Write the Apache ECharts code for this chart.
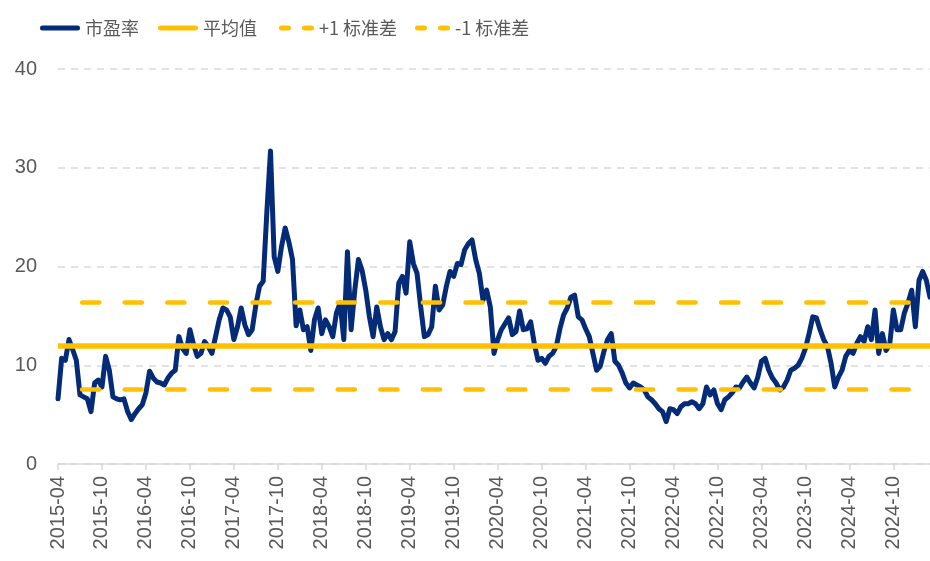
<!DOCTYPE html>
<html>
<head>
<meta charset="utf-8">
<script src="https://cdn.jsdelivr.net/npm/echarts@6/dist/echarts.min.js"></script>
<style>
html,body{margin:0;padding:0;background:#fff;}
#chart{width:930px;height:561px;}
</style>
</head>
<body>
<div id="chart"></div>
<script>
// Half-month observations starting 2015-04-01
const startYear = 2015, startMonth = 4;
const tickLabels = ['2015-04','2015-10','2016-04','2016-10','2017-04','2017-10','2018-04','2018-10','2019-04','2019-10',
  '2020-04','2020-10','2021-04','2021-10','2022-04','2022-10','2023-04','2023-10','2024-04','2024-10'];
const yTicks = [0, 10, 20, 30, 40];
const peValues = [
 6.6,10.7,10.5,12.6,11.6,10.5,7.0,6.8,6.6,5.3,
 8.2,8.5,7.8,10.9,9.5,6.8,6.6,6.5,6.6,5.3,
 4.5,5.1,5.6,6.0,7.2,9.4,8.7,8.3,8.2,8.0,
 8.7,9.2,9.5,12.9,11.7,11.2,13.6,12.1,10.9,11.2,
 12.4,11.9,11.2,12.9,14.6,15.8,15.6,14.9,12.6,13.9,
 15.8,14.1,13.1,13.6,16.1,18.0,18.5,25.5,31.7,21.0,
 19.5,22.0,23.9,22.5,20.7,14.0,15.6,13.6,13.9,11.5,
 14.6,15.8,13.2,14.6,13.9,12.9,15.3,16.3,12.6,21.5,
 13.6,17.6,20.7,19.6,17.6,14.9,12.9,15.9,13.9,12.6,
 13.2,12.6,13.4,18.3,19.0,17.3,22.5,20.3,19.3,15.9,
 12.9,13.1,13.9,18.0,15.6,16.1,18.0,19.5,19.0,20.3,
 20.2,21.7,22.3,22.7,20.7,19.3,16.6,17.6,15.9,11.2,
 12.6,13.6,14.2,14.8,13.1,13.4,15.5,13.6,13.7,14.4,
 12.2,10.5,10.7,10.2,10.9,11.2,11.9,13.7,15.1,15.8,
 16.9,17.1,14.9,14.6,13.7,12.9,11.2,9.5,9.9,11.4,
 12.6,13.2,10.4,10.0,9.2,8.2,7.7,8.2,8.0,7.8,
 7.5,6.8,6.5,6.1,5.6,5.3,4.3,5.6,5.5,5.1,
 5.8,6.1,6.1,6.3,6.1,5.6,6.1,7.8,7.0,7.5,
 6.1,5.5,6.5,6.8,7.2,7.8,7.7,8.3,8.8,8.2,
 7.7,8.8,10.4,10.7,9.5,8.7,8.2,7.5,7.8,8.5,
 9.5,9.7,10.0,10.7,11.7,13.2,14.9,14.8,13.6,12.6,
 11.9,10.2,7.8,8.8,9.5,10.9,11.5,11.2,12.2,12.9,
 12.4,13.9,12.6,15.6,11.2,13.2,11.5,12.1,15.6,13.6,
 13.6,15.3,16.3,17.6,13.9,18.6,19.5,18.6,16.9
];
const meanValue = 12.0;
const plusOneStd = 16.4;
const minusOneStd = 7.6;

const categories = [];
for (let i = 0; i < peValues.length; i++) {
  const m0 = startMonth - 1 + Math.floor(i / 2);
  const y = startYear + Math.floor(m0 / 12);
  const m = (m0 % 12) + 1;
  categories.push(y + '-' + String(m).padStart(2, '0') + '-' + (i % 2 === 0 ? '01' : '16'));
}
const tickSet = new Set(tickLabels.map(t => t + '-01'));
const showTick = (idx, val) => tickSet.has(val);

const NAVY = '#032b78';
const GOLD = '#FFC000';
const TXT = '#595959';
const dashPattern = [17, 25.6];

const solidIcon = 'path://M2.5,0H37.5A2.5,2.5,0,0,1,37.5,5H2.5A2.5,2.5,0,0,1,2.5,0Z';
const dashIcon = 'path://M2.5,0H9.5A2.5,2.5,0,0,1,9.5,5H2.5A2.5,2.5,0,0,1,2.5,0Z M25.5,0H32.5A2.5,2.5,0,0,1,32.5,5H25.5A2.5,2.5,0,0,1,25.5,0Z';

const chart = echarts.init(document.getElementById('chart'), null, {renderer: 'canvas'});
const legendBase = {
  top: 13, itemWidth: 40, itemHeight: 5, selectedMode: false, itemGap: 0,
  textStyle: {color: TXT, fontSize: 18, lineHeight: 20, fontFamily: '"Noto Sans CJK SC", sans-serif'}
};
chart.setOption({
  animation: false,
  legend: [
    Object.assign({}, legendBase, {left: 35, data: [{name: '市盈率', icon: solidIcon}], itemStyle: {color: NAVY}}),
    Object.assign({}, legendBase, {left: 153, data: [{name: '平均值', icon: solidIcon}], itemStyle: {color: GOLD}}),
    Object.assign({}, legendBase, {left: 274, itemWidth: 35, data: [{name: '+1 标准差', icon: dashIcon}], itemStyle: {color: GOLD}}),
    Object.assign({}, legendBase, {left: 410, itemWidth: 35, data: [{name: '-1 标准差', icon: dashIcon}], itemStyle: {color: GOLD}})
  ],
  grid: {left: 58, right: 0, top: 69, bottom: 97, containLabel: false},
  xAxis: {
    type: 'category', data: categories, boundaryGap: false,
    axisLine: {lineStyle: {color: '#d9d9d9', width: 1.5}},
    axisTick: {show: true, interval: showTick, length: 6, lineStyle: {color: '#d9d9d9', width: 1.5}},
    axisLabel: {interval: showTick, rotate: 90, margin: 12, color: TXT, fontSize: 20,
      fontFamily: '"Liberation Sans", Arial, sans-serif', formatter: v => v.slice(0, 7)},
    splitLine: {show: false}
  },
  yAxis: {
    type: 'value', min: yTicks[0], max: yTicks[yTicks.length - 1], interval: 10,
    axisLine: {show: false}, axisTick: {show: false},
    axisLabel: {color: TXT, fontSize: 20, margin: 21, fontFamily: '"Liberation Sans", Arial, sans-serif'},
    splitLine: {lineStyle: {color: '#d9d9d9', width: 1.5, type: [7, 6]}}
  },
  series: [
    {
      name: '市盈率', type: 'line', data: peValues, symbol: 'none', z: 3,
      itemStyle: {color: NAVY},
      lineStyle: {color: NAVY, width: 5, join: 'round', cap: 'round'}
    },
    {
      name: '平均值', type: 'line', data: [], symbol: 'none', z: 5,
      itemStyle: {color: GOLD}, lineStyle: {color: GOLD, width: 5.5},
      markLine: {symbol: ['none', 'none'], silent: true, label: {show: false},
        lineStyle: {color: GOLD, width: 5.5, type: 'solid'},
        emphasis: {disabled: true},
        data: [{yAxis: meanValue}]}
    },
    {
      name: '+1 标准差', type: 'line', data: [], symbol: 'none', z: 5,
      itemStyle: {color: GOLD}, lineStyle: {color: GOLD, width: 4.7, type: dashPattern, cap: 'round'},
      markLine: {symbol: ['none', 'none'], silent: true, label: {show: false},
        lineStyle: {color: GOLD, width: 4.7, type: dashPattern, dashOffset: 18.4, cap: 'round'},
        emphasis: {disabled: true},
        data: [{yAxis: plusOneStd}]}
    },
    {
      name: '-1 标准差', type: 'line', data: [], symbol: 'none', z: 5,
      itemStyle: {color: GOLD}, lineStyle: {color: GOLD, width: 4.7, type: dashPattern, cap: 'round'},
      markLine: {symbol: ['none', 'none'], silent: true, label: {show: false},
        lineStyle: {color: GOLD, width: 4.7, type: dashPattern, dashOffset: 18.4, cap: 'round'},
        emphasis: {disabled: true},
        data: [{yAxis: minusOneStd}]}
    }
  ]
});
</script>
</body>
</html>
